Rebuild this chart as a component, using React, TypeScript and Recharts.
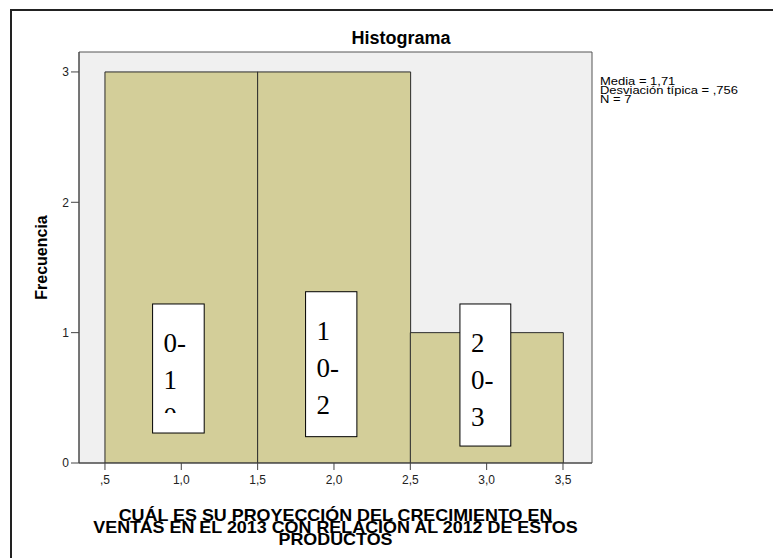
import { BarChart, Bar, XAxis, YAxis, ReferenceArea } from "recharts";

// histogram bins (centres) and frequencies
const bins = [1, 2, 3];
const counts = [3, 3, 1];

const xTicks = [0.5, 1, 1.5, 2, 2.5, 3, 3.5];
const xTickLabels = [",5", "1,0", "1,5", "2,0", "2,5", "3,0", "3,5"];
const yTicks = [0, 1, 2, 3];
const xDomain = [0.33, 3.69];
const yDomain = [0, 3.153];

const statLines = ["Media = 1,71", "Desviación típica = ,756", "N = 7"];
const xTitleLines = [
  "CUÁL ES SU PROYECCIÓN DEL CRECIMIENTO EN",
  "VENTAS EN EL 2013 CON RELACIÓN AL 2012 DE ESTOS",
  "PRODUCTOS",
];

// pasted text boxes over the bars
const boxLines = [
  ["0-", "1", "0"],
  ["1", "0-", "2", "0"],
  ["2", "0-", "3", "0"],
];
const boxX = [
  [0.812, 1.15],
  [1.814, 2.15],
  [2.825, 3.158],
];
const boxY = [
  [0.23, 1.22],
  [0.202, 1.314],
  [0.13, 1.22],
];

const data = bins.map((b, i) => ({ bin: b, count: counts[i] }));

const SANS = "'Liberation Sans', Arial, sans-serif";
const SERIF = "'Liberation Serif', 'Times New Roman', serif";

function TextBox(props: any) {
  const { x, y, width, height, lines, id } = props;
  if (x == null || y == null) return null;
  return (
    <g>
      <defs>
        <clipPath id={id}>
          <rect x={x} y={y} width={width} height={height - 20} />
        </clipPath>
      </defs>
      <rect x={x} y={y} width={width} height={height} fill="#fff" stroke="#000" strokeWidth={1} />
      <g clipPath={`url(#${id})`}>
        {lines.map((t: string, i: number) => (
          <text key={i} x={x + 11} y={y + 48 + i * 37} fontFamily={SERIF} fontSize={27} fill="#000">
            {t}
          </text>
        ))}
      </g>
    </g>
  );
}

function XTitle(props: any) {
  const vb = props.viewBox || {};
  const cx = vb.x + vb.width / 2;
  return (
    <g transform={`translate(${cx} 0) scale(1.12 1) translate(${-cx} 0)`}>
      {xTitleLines.map((t, i) => (
        <text
          key={i}
          x={cx}
          y={521 + i * 12}
          textAnchor="middle"
          fontFamily={SANS}
          fontSize={16}
          fontWeight="bold"
          fill="#000"
        >
          {t}
        </text>
      ))}
    </g>
  );
}

function YTitle(props: any) {
  const vb = props.viewBox || {};
  const cy = vb.y + vb.height / 2;
  return (
    <text
      x={47}
      y={cy}
      transform={`rotate(-90, 47, ${cy})`}
      textAnchor="middle"
      fontFamily={SANS}
      fontSize={16}
      fontWeight="bold"
      fill="#000"
    >
      Frecuencia
    </text>
  );
}

export default function App() {
  return (
    <div style={{ position: "absolute", left: 0, top: 0, width: 773, height: 558, background: "#fff", overflow: "hidden" }}>
      <BarChart
        width={773}
        height={558}
        data={data}
        margin={{ top: 52, right: 181, bottom: 65, left: 0 }}
        barCategoryGap={0}
        barGap={0}
      >
        <XAxis
          dataKey="bin"
          type="number"
          domain={xDomain}
          ticks={xTicks}
          interval={0}
          allowDataOverflow
          height={30}
          tickSize={7}
          tickMargin={5}
          tickFormatter={(v: number) => xTickLabels[xTicks.indexOf(v)]}
          tick={{ fill: "#222", fontSize: 12, fontFamily: SANS }}
          axisLine={{ stroke: "#444" }}
          tickLine={{ stroke: "#444" }}
          label={<XTitle />}
        />
        <YAxis
          type="number"
          domain={yDomain}
          ticks={yTicks}
          interval={0}
          allowDataOverflow
          width={79}
          tickSize={8}
          tick={{ fill: "#222", fontSize: 12, fontFamily: SANS }}
          axisLine={{ stroke: "#444" }}
          tickLine={{ stroke: "#444" }}
          label={<YTitle />}
        />
        <ReferenceArea
          x1={xDomain[0]}
          x2={xDomain[1]}
          y1={yDomain[0]}
          y2={yDomain[1]}
          fill="#F0F0F0"
          fillOpacity={1}
          stroke="#555"
          strokeWidth={1}
          ifOverflow="visible"
        />
        <Bar dataKey="count" fill="#D3CE99" stroke="#2b2b2b" strokeWidth={1} isAnimationActive={false} />
        {boxLines.map((lines, i) => (
          <ReferenceArea
            key={i}
            x1={boxX[i][0]}
            x2={boxX[i][1]}
            y1={boxY[i][0]}
            y2={boxY[i][1]}
            ifOverflow="visible"
            zIndex={2000}
            shape={(p: any) => <TextBox {...p} lines={lines} id={`box-clip-${i}`} />}
          />
        ))}
      </BarChart>
      <svg
        width={773}
        height={558}
        style={{ position: "absolute", left: 0, top: 0, pointerEvents: "none" }}
      >
        <rect x={11} y={10} width={820} height={600} fill="none" stroke="#222" strokeWidth={2} />
        <text x={401} y={44} textAnchor="middle" fontFamily={SANS} fontSize={18} fontWeight="bold" fill="#000">
          Histograma
        </text>
        <g transform="translate(600 0) scale(1.18 1) translate(-600 0)">
          {statLines.map((t, i) => (
            <text key={i} x={600} y={85 + i * 9} fontFamily={SANS} fontSize={11} fill="#000">
              {t}
            </text>
          ))}
        </g>
      </svg>
    </div>
  );
}
